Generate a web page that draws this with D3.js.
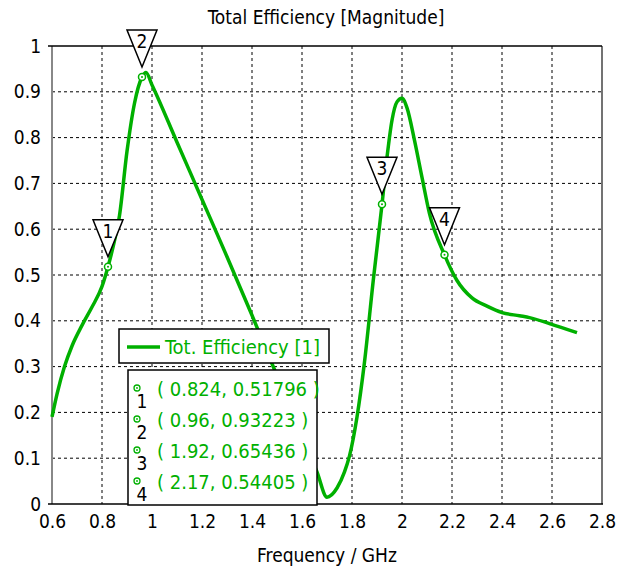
<!DOCTYPE html>
<html>
<head>
<meta charset="utf-8">
<script src="https://cdn.jsdelivr.net/npm/d3@7"></script>
<style>
	body { margin: 0; background: #fff; }
	text { font-family: "DejaVu Sans Condensed", "DejaVu Sans", sans-serif; }
</style>
</head>
<body>
<svg id="chart" width="625" height="566"></svg>
<script>
const freq = [0.60, 0.62, 0.65, 0.68, 0.72, 0.76, 0.80, 0.824, 0.85, 0.87, 0.90, 0.93, 0.96, 0.976,
	1.00, 1.10, 1.20, 1.30, 1.40, 1.50, 1.60, 1.66, 1.70, 1.74, 1.77, 1.79, 1.82, 1.85, 1.885,
	1.92, 1.94, 1.96, 1.98, 2.00, 2.02, 2.05, 2.08, 2.11, 2.17, 2.22, 2.28, 2.34, 2.40, 2.47,
	2.51, 2.59, 2.70];
const efficiency = [0.19, 0.24, 0.30, 0.345, 0.39, 0.43, 0.475, 0.518, 0.575, 0.63, 0.77, 0.875, 0.932, 0.942,
	0.915, 0.79, 0.665, 0.54, 0.412, 0.28, 0.15, 0.07, 0.015, 0.035, 0.07, 0.105, 0.19, 0.31, 0.488,
	0.654, 0.757, 0.838, 0.878, 0.886, 0.865, 0.794, 0.713, 0.634, 0.544, 0.488, 0.45, 0.432, 0.418, 0.411,
	0.407, 0.394, 0.374];

const markerIds = ["1", "2", "3", "4"];
const markerFreq = [0.824, 0.96, 1.92, 2.17];
const markerValue = [0.51796, 0.93223, 0.65436, 0.54405];
const markerText = ["( 0.824, 0.51796 )", "( 0.96, 0.93223 )", "( 1.92, 0.65436 )", "( 2.17, 0.54405 )"];

const xTicks = [0.6, 0.8, 1, 1.2, 1.4, 1.6, 1.8, 2, 2.2, 2.4, 2.6, 2.8];
const yTicks = [0, 0.1, 0.2, 0.3, 0.4, 0.5, 0.6, 0.7, 0.8, 0.9, 1];

const title = "Total Efficiency [Magnitude]";
const xLabel = "Frequency / GHz";
const seriesName = "Tot. Efficiency [1]";

const green = "#00b000";
const bounds = { minX: 52, maxX: 602, minY: 46, maxY: 504 };

const svg = d3.select("svg#chart");
const x = d3.scaleLinear().domain([0.6, 2.8]).range([bounds.minX, bounds.maxX]);
const y = d3.scaleLinear().domain([0, 1]).range([bounds.maxY, bounds.minY]);

// dashed grid
svg.append("g")
	.selectAll("line")
	.data(xTicks.slice(1, -1))
	.join("line")
	.attr("x1", d => x(d)).attr("x2", d => x(d))
	.attr("y1", bounds.minY).attr("y2", bounds.maxY)
	.attr("stroke", "#000").attr("stroke-dasharray", "3,3");
svg.append("g")
	.selectAll("line")
	.data(yTicks.slice(1, -1))
	.join("line")
	.attr("x1", bounds.minX).attr("x2", bounds.maxX)
	.attr("y1", d => y(d)).attr("y2", d => y(d))
	.attr("stroke", "#000").attr("stroke-dasharray", "3,3");

// frame
svg.append("line").attr("x1", bounds.minX).attr("x2", bounds.minX)
	.attr("y1", bounds.minY).attr("y2", bounds.maxY).attr("stroke", "#888").attr("stroke-width", 2);
svg.append("line").attr("x1", bounds.maxX).attr("x2", bounds.maxX)
	.attr("y1", bounds.minY).attr("y2", bounds.maxY).attr("stroke", "#444").attr("stroke-width", 1.5);
svg.append("line").attr("x1", bounds.minX - 4).attr("x2", bounds.maxX)
	.attr("y1", bounds.minY).attr("y2", bounds.minY).attr("stroke", "#000").attr("stroke-width", 1.5);
svg.append("line").attr("x1", bounds.minX - 4).attr("x2", bounds.maxX + 1)
	.attr("y1", bounds.maxY).attr("y2", bounds.maxY).attr("stroke", "#000").attr("stroke-width", 1.5);

// axes (labels only, the frame is drawn above)
const xAxis = svg.append("g")
	.attr("transform", `translate(0 ${bounds.maxY})`)
	.call(d3.axisBottom(x).tickValues(xTicks).tickFormat(d3.format("")).tickSize(0).tickPadding(11));
const yAxis = svg.append("g")
	.attr("transform", `translate(${bounds.minX} 0)`)
	.call(d3.axisLeft(y).tickValues(yTicks).tickFormat(d3.format("")).tickSize(0).tickPadding(11));
[xAxis, yAxis].forEach(g => {
	g.select(".domain").remove();
	g.selectAll("text").attr("font-size", 19).attr("fill", "#000")
		.attr("font-family", "'DejaVu Sans Condensed', sans-serif");
});

// curve
const points = freq.map((f, i) => [f, efficiency[i]]);
svg.append("path")
	.datum(points)
	.attr("fill", "none")
	.attr("stroke", green)
	.attr("stroke-width", 3.5)
	.attr("stroke-linejoin", "round")
	.attr("d", d3.line().x(d => x(d[0])).y(d => y(d[1])).curve(d3.curveMonotoneX));

// markers on the curve
const markers = markerIds.map((id, i) => ({ id, f: markerFreq[i], v: markerValue[i], text: markerText[i] }));
const mk = svg.append("g").selectAll("g").data(markers).join("g")
	.attr("transform", d => `translate(${x(d.f)} ${y(d.v)})`);
mk.append("circle").attr("r", 3.5).attr("fill", "#fff").attr("stroke", green).attr("stroke-width", 1.5);
mk.append("circle").attr("r", 1).attr("fill", green);
mk.append("path")
	.attr("d", "M0,-10 L-15,-47 L15,-47 Z")
	.attr("fill", "#fff").attr("stroke", "#000").attr("stroke-width", 1.5);
mk.append("text")
	.attr("y", -29).attr("text-anchor", "middle").attr("font-size", 19).attr("fill", "#000")
	.text(d => d.id);

// title and axis label
svg.append("text").attr("x", 326).attr("y", 24).attr("text-anchor", "middle")
	.attr("font-size", 19).text(title);
svg.append("text").attr("x", 327).attr("y", 562).attr("text-anchor", "middle")
	.attr("font-size", 19).text(xLabel);

// legend
const legend = svg.append("g");
legend.append("rect").attr("x", 119).attr("y", 329).attr("width", 210).attr("height", 34)
	.attr("fill", "#fff").attr("stroke", "#000").attr("stroke-width", 1.5);
legend.append("line").attr("x1", 127).attr("x2", 160).attr("y1", 347).attr("y2", 347)
	.attr("stroke", green).attr("stroke-width", 3.5);
legend.append("text").attr("x", 165).attr("y", 354).attr("font-size", 20).attr("fill", green)
	.text(seriesName);

// marker value box
const box = svg.append("g");
box.append("rect").attr("x", 128).attr("y", 370).attr("width", 189).attr("height", 135)
	.attr("fill", "#fff").attr("stroke", "#000").attr("stroke-width", 1.5);
const rows = box.selectAll("g.row").data(markers).join("g")
	.attr("class", "row")
	.attr("transform", (d, i) => `translate(0 ${396 + i * 31})`);
rows.append("circle").attr("cx", 137).attr("cy", -8).attr("r", 3).attr("fill", "#fff")
	.attr("stroke", green).attr("stroke-width", 1.3);
rows.append("circle").attr("cx", 137).attr("cy", -8).attr("r", 0.9).attr("fill", green);
rows.append("text").attr("x", 142).attr("y", 12).attr("text-anchor", "middle")
	.attr("font-size", 19).attr("fill", "#000").text(d => d.id);
rows.append("text").attr("x", 157).attr("y", 0).attr("font-size", 20).attr("fill", green)
	.text(d => d.text);
</script>
</body>
</html>
